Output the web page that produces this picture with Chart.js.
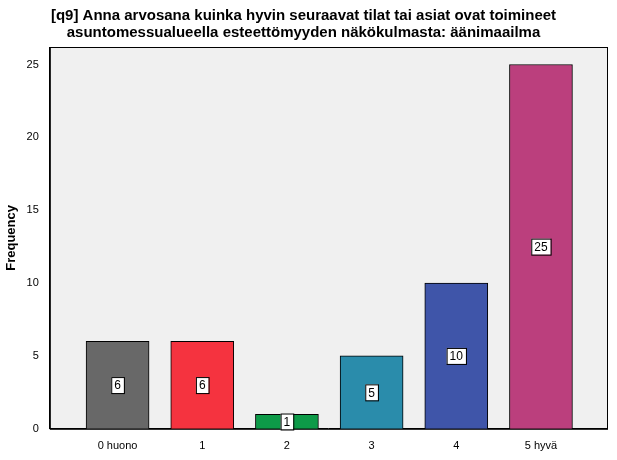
<!DOCTYPE html>
<html><head><meta charset="utf-8">
<script src="https://cdn.jsdelivr.net/npm/chart.js@4"></script>
<style>body{margin:0;background:#fff}#wrap{width:617px;height:460px}</style>
</head><body><div id="wrap"><canvas id="c"></canvas></div>
<script>
var categories = ["0 huono", "1", "2", "3", "4", "5 hyvä"];
var counts = [6, 6, 1, 5, 10, 25];
var colors = ["#686868", "#f5333f", "#0d9a48", "#2a8cab", "#3f55a9", "#bb3f7d"];
var yTicks = [0, 5, 10, 15, 20, 25];

var boxPlugin = {
  id: "box",
  beforeDraw: function(ch) {
    var a = ch.chartArea, g = ch.ctx;
    g.save(); g.fillStyle = "#f0f0f0"; g.fillRect(a.left, a.top, a.right - a.left, a.bottom - a.top);
    g.strokeStyle = "#000"; g.lineWidth = 1; g.strokeRect(a.left + 0.5, a.top + 0.5, a.right - a.left, a.bottom - a.top);
    g.restore();
  },
  afterDatasetsDraw: function(ch) {
    var g = ch.ctx, meta = ch.getDatasetMeta(0);
    g.save(); g.font = "12px 'Liberation Sans', Arial"; g.textAlign = "center"; g.textBaseline = "middle";
    meta.data.forEach(function(b, i) {
      var t = String(counts[i]), w = g.measureText(t).width + 6, y = (b.y + b.base) / 2;
      g.fillStyle = "#fff"; g.fillRect(b.x - w / 2, y - 8, w, 16);
      g.strokeStyle = "#000"; g.strokeRect(b.x - w / 2 + 0.5, y - 8 + 0.5, w, 16);
      g.fillStyle = "#000"; g.fillText(t, b.x, y + 1);
    });
    g.restore();
  }
};

new Chart(document.getElementById("c"), {
  type: "bar",
  data: { datasets: [{
    data: counts.map(function(v, i) { return { x: i, y: v }; }),
    backgroundColor: colors, borderColor: "#000", borderWidth: 1,
    barThickness: 63
  }] },
  plugins: [boxPlugin],
  options: {
    responsive: true, maintainAspectRatio: false, animation: false,
    layout: { padding: { left: 0, right: 10, top: 0, bottom: 4 } },
    plugins: {
      legend: { display: false }, tooltip: { enabled: false },
      title: { display: true, text: ["[q9] Anna arvosana kuinka hyvin seuraavat tilat tai asiat ovat toimineet", "asuntomessualueella esteettömyyden näkökulmasta: äänimaailma"],
        color: "#000", font: { family: "'Liberation Sans', Arial", size: 15, weight: "bold", lineHeight: 1.1 }, padding: { top: 8, bottom: 6 } }
    },
    scales: {
      x: { type: "linear", min: -0.8, max: 5.78, offset: false,
        afterBuildTicks: function(s) { s.ticks = categories.map(function(c, i) { return { value: i }; }); },
        ticks: { color: "#000", font: { family: "'Liberation Sans', Arial", size: 11 }, callback: function(v) { return categories[v]; }, maxRotation: 0 },
        grid: { display: false, drawTicks: true }, border: { color: "#000" } },
      y: { min: 0, max: 26.2,
        afterBuildTicks: function(s) { s.ticks = yTicks.map(function(v) { return { value: v }; }); },
        ticks: { color: "#000", font: { family: "'Liberation Sans', Arial", size: 11 } },
        grid: { display: false }, border: { color: "#000" },
        title: { display: true, text: "Frequency", color: "#000", font: { family: "'Liberation Sans', Arial", size: 13, weight: "bold" } } }
    }
  }
});
</script></body></html>
